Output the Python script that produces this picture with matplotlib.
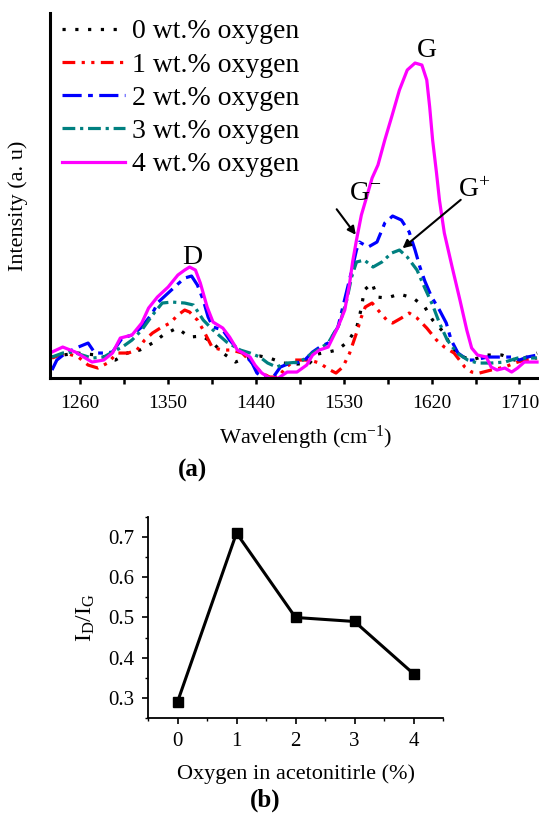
import matplotlib
matplotlib.use("Agg")
import matplotlib.pyplot as plt
from matplotlib.ticker import MultipleLocator

plt.rcParams["font.family"] = ["Liberation Serif", "DejaVu Serif"]
plt.rcParams["mathtext.default"] = "regular"

# Raman spectra (wavelength, intensity a.u.)
w0 = [1231, 1242, 1257, 1277, 1296, 1308, 1321, 1334, 1345, 1359, 1372, 1385, 1396, 1406, 1419, 1432,
      1444, 1454, 1468, 1482, 1495, 1503, 1514, 1523, 1534, 1543, 1546, 1549, 1551, 1559, 1564, 1574,
      1587, 1601, 1613, 1621, 1633, 1640, 1647, 1661, 1677, 1692, 1705, 1718, 1728]
i0 = [21, 23, 25, 23, 18, 25, 28, 35, 43, 50, 41, 42, 35, 25, 16, 21,
      22, 20, 15, 14, 15, 24, 26, 28, 36, 50, 61, 76, 88, 95, 81, 80,
      84, 80, 71, 58, 45, 31, 23, 18, 23, 23, 18, 21, 25]

w1 = [1231, 1245, 1258, 1268, 1278, 1288, 1298, 1309, 1318, 1326, 1334, 1342, 1352, 1360, 1367, 1372,
      1380, 1386, 1395, 1405, 1415, 1426, 1436, 1446, 1454, 1463, 1470, 1480, 1495, 1505, 1516, 1522,
      1529, 1536, 1543, 1548, 1552, 1559, 1565, 1574, 1580, 1589, 1597, 1605, 1615, 1625, 1633, 1643,
      1654, 1661, 1669, 1681, 1695, 1705, 1715, 1728]
i1 = [20, 25, 21, 13, 10, 15, 25, 25, 28, 38, 45, 50, 55, 63, 68, 66,
      58, 48, 31, 28, 28, 25, 15, 5, 1, 1, 10, 18, 18, 15, 8, 5,
      11, 25, 45, 61, 71, 75, 68, 58, 55, 60, 65, 60, 50, 38, 31, 25,
      11, 6, 5, 8, 11, 15, 18, 20]

w2 = [1231, 1236, 1245, 1258, 1268, 1275, 1286, 1293, 1303, 1313, 1323, 1334, 1340, 1350, 1360, 1367,
      1374, 1380, 1386, 1391, 1396, 1406, 1413, 1422, 1427, 1436, 1441, 1447, 1457, 1465, 1475, 1488,
      1498, 1507, 1514, 1524, 1529, 1534, 1539, 1543, 1546, 1555, 1564, 1572, 1580, 1589, 1597, 1603,
      1608, 1613, 1620, 1628, 1635, 1640, 1647, 1657, 1664, 1677, 1692, 1702, 1710, 1718, 1728]
i2 = [8, 18, 25, 31, 35, 25, 25, 26, 40, 43, 51, 65, 76, 85, 94, 100,
      102, 93, 78, 61, 51, 48, 38, 28, 25, 15, 5, 1, 0, 11, 15, 16,
      26, 32, 35, 51, 71, 91, 111, 128, 136, 131, 136, 155, 162, 158, 146, 128,
      111, 97, 81, 68, 55, 38, 25, 18, 18, 21, 21, 21, 18, 21, 23]

w3 = [1231, 1242, 1252, 1262, 1272, 1284, 1293, 1303, 1313, 1323, 1334, 1344, 1354, 1367, 1376, 1386,
      1396, 1410, 1424, 1434, 1444, 1452, 1461, 1472, 1485, 1498, 1514, 1526, 1533, 1538, 1543, 1551,
      1560, 1569, 1579, 1587, 1595, 1605, 1613, 1621, 1628, 1636, 1646, 1657, 1667, 1681, 1695, 1708,
      1718, 1728]
i3 = [21, 25, 26, 23, 20, 21, 26, 31, 38, 48, 63, 75, 76, 75, 73, 58,
      48, 36, 28, 25, 21, 15, 11, 15, 16, 25, 35, 55, 78, 101, 116, 118,
      111, 116, 125, 128, 121, 108, 90, 73, 55, 38, 25, 18, 15, 15, 16, 20,
      20, 20]

w4 = [1231, 1242, 1255, 1272, 1284, 1293, 1301, 1313, 1323, 1330, 1339, 1350, 1360, 1367, 1372, 1378,
      1383, 1390, 1396, 1406, 1413, 1421, 1427, 1434, 1439, 1446, 1454, 1463, 1472, 1482, 1492, 1498,
      1505, 1514, 1524, 1531, 1536, 1539, 1543, 1548, 1554, 1559, 1565, 1572, 1579, 1587, 1595, 1603,
      1610, 1615, 1618, 1621, 1625, 1628, 1633, 1641, 1649, 1656, 1661, 1667, 1676, 1681, 1687, 1695,
      1702, 1708, 1715, 1728]
i4 = [26, 31, 26, 16, 18, 25, 40, 43, 55, 70, 81, 91, 103, 108, 111, 108,
      95, 71, 56, 50, 41, 28, 25, 21, 13, 5, 0, 0, 6, 6, 13, 23,
      28, 31, 51, 68, 95, 116, 138, 163, 183, 200, 213, 238, 261, 288, 308, 315,
      313, 298, 271, 238, 205, 178, 145, 111, 78, 48, 30, 23, 21, 11, 8, 10,
      6, 10, 16, 16]

labels = ["0 wt.% oxygen", "1 wt.% oxygen", "2 wt.% oxygen", "3 wt.% oxygen", "4 wt.% oxygen"]
colors = ["black", "#ff0000", "#0000ff", "#008080", "#ff00ff"]
styles = [(0, (1, 3)), (0, (4, 2, 1, 2, 1, 2)), (0, (6, 2, 1.5, 2)), (0, (4, 1.5, 1, 1.5)), "-"]

# I_D/I_G ratio
oxygen = [0, 1, 2, 3, 4]
ratio = [0.29, 0.71, 0.50, 0.49, 0.36]

fig = plt.figure(figsize=(5.39, 8.13), dpi=100)

ax = fig.add_axes([0.0928, 0.535, 0.9072, 0.449])
for w, i, lab, c, ls in zip([w0, w1, w2, w3, w4], [i0, i1, i2, i3, i4], labels, colors, styles):
    ax.plot(w, i, color=c, linestyle=ls, lw=2.3, label=lab)

ax.set_xlim(1229, 1730)
ax.set_ylim(0, 365)
ax.xaxis.set_major_locator(MultipleLocator(90))
ax.xaxis.set_minor_locator(MultipleLocator(45))
ax.set_yticks([])
ax.spines["top"].set_visible(False)
ax.spines["right"].set_visible(False)
ax.spines["left"].set_linewidth(2.2)
ax.spines["bottom"].set_linewidth(2.2)
ax.tick_params(axis="x", which="both", direction="out", length=4, width=1.8, labelsize=14, pad=8)
ax.set_xlabel("Wavelength (cm$^{-1}$)", fontsize=16)
ax.xaxis.set_label_coords(0.523, -0.125)
ax.set_ylabel("Intensity (a. u)", fontsize=16)
ax.yaxis.set_label_coords(-0.045, 0.471)

ax.legend(loc="upper left", frameon=False, fontsize=20, handlelength=2.27, handletextpad=0.25,
          labelspacing=0.28, borderaxespad=0.0, bbox_to_anchor=(0.002, 1.014))

ax.text(1375, 121, "D", fontsize=20, ha="center", va="center")
ax.text(1615, 328, "G", fontsize=20, ha="center", va="center")
ax.text(1552, 185, "G$^{-}$", fontsize=20, ha="center", va="center")
ax.text(1664, 188, "G$^{+}$", fontsize=20, ha="center", va="center")
ax.annotate("", xy=(1544, 141), xytext=(1521, 171),
            arrowprops=dict(arrowstyle="-|>", color="black", lw=1.5, mutation_scale=12))
ax.annotate("", xy=(1588, 128), xytext=(1652, 180),
            arrowprops=dict(arrowstyle="-|>", color="black", lw=1.5, mutation_scale=12))

fig.text(0.358, 1 - 470 / 813, "(a)", fontsize=18, fontweight="bold", ha="center", va="center")

bx = fig.add_axes([0.2746, 0.1169, 0.5473, 0.2472])
bx.plot(oxygen, ratio, color="black", lw=2.2, marker="s", markersize=7.5)
bx.set_xlim(-0.5, 4.5)
bx.set_ylim(0.25, 0.75)
bx.xaxis.set_major_locator(MultipleLocator(1))
bx.xaxis.set_minor_locator(MultipleLocator(0.5))
bx.yaxis.set_major_locator(MultipleLocator(0.1))
bx.yaxis.set_minor_locator(MultipleLocator(0.05))
bx.spines["top"].set_visible(False)
bx.spines["right"].set_visible(False)
bx.spines["left"].set_linewidth(1.3)
bx.spines["bottom"].set_linewidth(1.3)
bx.tick_params(which="major", direction="out", length=4, width=1.2, labelsize=15, pad=6)
bx.tick_params(which="minor", direction="out", length=2.5, width=1.0)
bx.set_xlabel("Oxygen in acetonitirle (%)", fontsize=16, labelpad=10)
bx.set_ylabel("I$_D$/I$_G$", fontsize=17, labelpad=8)

fig.text(0.492, 1 - 800 / 813, "(b)", fontsize=18, fontweight="bold", ha="center", va="center")

fig.savefig("out.png", dpi=100)
